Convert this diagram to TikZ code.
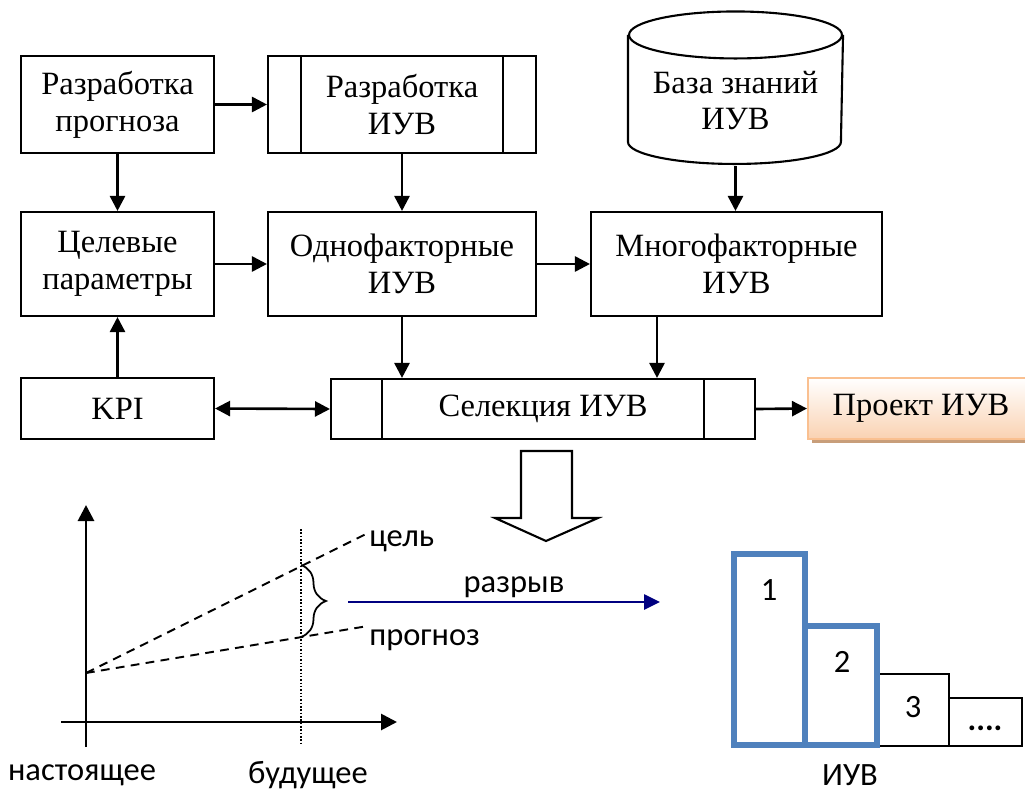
\documentclass[tikz,border=0pt]{standalone}
\usepackage{fontspec}
\setmainfont{Liberation Serif}
\newfontfamily\calibri{Carlito}
\usetikzlibrary{arrows.meta,decorations.pathreplacing,shadows}
\definecolor{barblue}{RGB}{79,129,189}
\definecolor{gapblue}{RGB}{0,0,128}
\definecolor{projline}{RGB}{250,192,144}
\definecolor{projfill}{RGB}{250,210,178}
\definecolor{projshadow}{RGB}{200,158,122}
\tikzset{
  box/.style={draw, line width=1.2pt, minimum height=2.08cm, align=center,
    inner sep=0pt, font=\fontsize{18.5}{21}\selectfont},
  procbox/.style={box, path picture={
    \draw[line width=0.9pt] ([xshift=#1]path picture bounding box.north west) -- ([xshift=#1]path picture bounding box.south west);
    \draw[line width=0.9pt] ([xshift=-#1]path picture bounding box.north east) -- ([xshift=-#1]path picture bounding box.south east);}},
  arr/.style={-{Triangle[length=0.3cm,width=0.3cm]}, line width=1.5pt},
  lbl/.style={font=\calibri\fontsize{18.5}{21}\selectfont, inner sep=0pt},
}
\begin{document}
\begin{tikzpicture}[x=0.02cm, y=-0.02cm,
    axis/.style={-{Triangle[length=0.32cm,width=0.32cm]}, line width=1.6pt},
    trend/.style={line width=1.1pt, dash pattern=on 5pt off 3.6pt}]
    \useasboundingbox (0,0) rectangle (1025,791);

    \node[box, minimum width=3.86cm, minimum height=1.94cm] (prog) at (117.5,104.5) {Разработка\\прогноза};
    \node[procbox=0.66cm, minimum width=5.36cm, minimum height=1.94cm] (dev) at (402,104.5) {Разработка\\ИУВ};
    \node[box, minimum width=3.86cm] (target) at (117.5,264) {Целевые\\параметры};
    \node[box, minimum width=5.36cm] (single) at (402,264) {Однофакторные\\ИУВ};
    \node[box, minimum width=5.82cm] (multi) at (736.5,264) {Многофакторные\\ИУВ};
    \node[box, minimum width=3.86cm, minimum height=1.22cm] (kpi) at (117.5,408.5) {KPI};
    \node[procbox=1.02cm, minimum width=8.48cm, minimum height=1.2cm] (sel) at (543,409) {Селекция ИУВ};
    \node[box, draw=projline, line width=1.2pt, top color=white, bottom color=projfill,
      drop shadow={shadow xshift=0.07cm, shadow yshift=-0.09cm, fill=projshadow, opacity=1},
      minimum width=4.52cm, minimum height=1.22cm] (proj) at (921,408.5) {Проект ИУВ};

    \node[box, draw=none, minimum width=4.26cm, minimum height=2.58cm] (kb) at (735.5,100.5) {База знаний\\ИУВ};
    \draw[line width=1.2pt] (kb.north west) -- ++(0,107) arc[start angle=180, end angle=360, x radius=2.13cm, y radius=0.44cm] -- (kb.north east);
    \draw[line width=1.2pt] (kb.north) ellipse [x radius=2.13cm, y radius=0.47cm];

    \draw[arr] (prog.east) -- (dev.west);
    \draw[arr] (prog.south) -- (target.north);
    \draw[arr] (dev.south) -- (single.north);
    \draw[arr] (kb.south) -- (kb.south |- multi.north);
    \draw[arr] (target.east) -- (single.west);
    \draw[arr] (single.east) -- (multi.west);
    \draw[arr] (single.south) -- (single.south |- sel.north);
    \draw[arr] ([xshift=-1.59cm]multi.south) -- ([xshift=-1.59cm]multi.south |- sel.north);
    \draw[arr] (kpi.north) -- (target.south);
    \draw[arr, {Triangle[length=0.3cm,width=0.3cm]}-{Triangle[length=0.3cm,width=0.3cm]}] (kpi.east) -- (sel.west);
    \draw[arr] (sel.east) -- (proj.west);

    \draw[line width=1.2pt] (521,451) -- (572,451) -- (572,518) -- (598,518) -- (546,541) -- (495,518) -- (521,518) -- cycle;

    \coordinate (o) at (86,673);
    \draw[axis] (86,747) -- (86,505);
    \draw[axis] (61,722) -- (397,722);
    \draw[densely dotted, line width=0.9pt] (301,529) -- (301,745);
    \draw[trend] (o) -- (368,533);
    \draw[trend] (o) -- (368,626);
    \draw[line width=1pt, decorate, decoration={brace, amplitude=0.5cm}] (301,565) -- (301,637);
    \node[lbl, anchor=west] (goal) at (369,541) {цель};
    \node[lbl, anchor=west] (fcst) at (369,640) {прогноз};
    \node[lbl] (now) at (82,775) {настоящее};
    \node[lbl] (future) at (308,775) {будущее};
    \draw[-{Triangle[length=0.32cm,width=0.3cm]}, line width=1.5pt, gapblue] (348,602) -- (660,602);
    \node[lbl] (gap) at (514,587) {разрыв};

    \draw[line width=1pt] (877,674) rectangle (949,746);
    \draw[line width=1pt] (949,698) rectangle (1022,746);
    \draw[line width=3.4pt, barblue] (805,626) rectangle (877,745);
    \draw[line width=3.4pt, barblue] (734,554) rectangle (805,745);
    \node[lbl] (b1) at (769,590) {1};
    \node[lbl] (b2) at (842,662) {2};
    \node[lbl] (b3) at (913,707) {3};
    \node[lbl] (b4) at (985,728) {\textbf{....}};
    \node[lbl] (iuv) at (850,775) {ИУВ};
\end{tikzpicture}
\end{document}
